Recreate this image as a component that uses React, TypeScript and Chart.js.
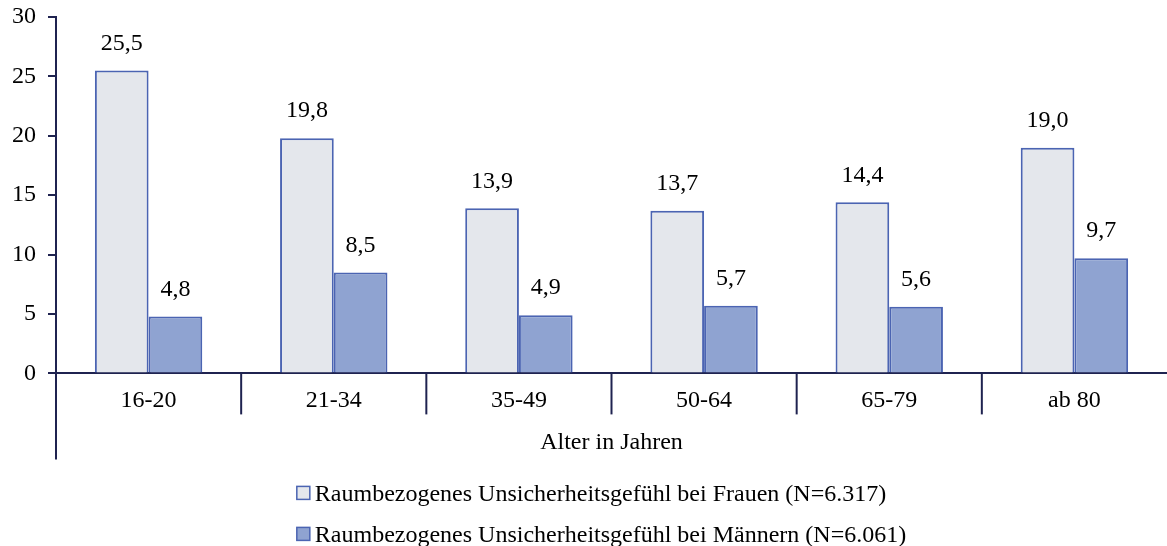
import React, { useEffect, useRef } from "react";
import { Chart, registerables } from "chart.js";

Chart.register(...registerables);

const categories = ["16-20", "21-34", "35-49", "50-64", "65-79", "ab 80"];
const frauen = [25.5, 19.8, 13.9, 13.7, 14.4, 19.0];
const maenner = [4.8, 8.5, 4.9, 5.7, 5.6, 9.7];
const seriesLabels = [
  "Raumbezogenes Unsicherheitsgefühl bei Frauen (N=6.317)",
  "Raumbezogenes Unsicherheitsgefühl bei Männern (N=6.061)",
];
const xTitle = "Alter in Jahren";

const FONT = "'Liberation Serif', 'Times New Roman', serif";
const FS = 24;
const NAVY = "#1f2350";

const extrasPlugin = {
  id: "extras",
  afterDraw(chart: any) {
    const ctx = chart.ctx;
    const area = chart.chartArea;
    const x = chart.scales.x;
    ctx.save();
    // y axis extension and category separators
    ctx.strokeStyle = NAVY;
    ctx.lineWidth = 2;
    ctx.beginPath();
    ctx.moveTo(area.left, area.bottom);
    ctx.lineTo(area.left, area.bottom + 86);
    ctx.stroke();
    for (let i = 0; i < categories.length - 1; i++) {
      const px = (x.getPixelForValue(i) + x.getPixelForValue(i + 1)) / 2;
      ctx.beginPath();
      ctx.moveTo(px, area.bottom);
      ctx.lineTo(px, area.bottom + 41);
      ctx.stroke();
    }
    // data labels
    ctx.fillStyle = "#000";
    ctx.font = `${FS}px ${FONT}`;
    ctx.textAlign = "center";
    ctx.textBaseline = "middle";
    chart.data.datasets.forEach((ds: any, di: number) => {
      const meta = chart.getDatasetMeta(di);
      meta.data.forEach((bar: any, i: number) => {
        const v = ds.data[i];
        ctx.fillText(v.toFixed(1).replace(".", ","), bar.x, bar.y - 27);
      });
    });
    // legend
    const texts = chart.data.datasets.map((d: any) => d.label);
    const widths = texts.map((t: string) => ctx.measureText(t).width);
    const maxW = Math.max(...widths) + 16;
    const left = chart.width / 2 - maxW / 2 + 17;
    ctx.textAlign = "left";
    chart.data.datasets.forEach((ds: any, di: number) => {
      const cy = area.bottom + 120 + di * 41;
      ctx.fillStyle = ds.backgroundColor;
      ctx.strokeStyle = ds.borderColor;
      ctx.lineWidth = 1.5;
      ctx.fillRect(left, cy - 7, 13, 13);
      ctx.strokeRect(left, cy - 7, 13, 13);
      ctx.fillStyle = "#000";
      ctx.fillText(ds.label, left + 18, cy + 1);
    });
    ctx.restore();
  },
};

export default function App() {
  const ref = useRef<HTMLCanvasElement | null>(null);
  useEffect(() => {
    document.body.style.margin = "0";
    const chart = new Chart(ref.current!, {
      type: "bar",
      data: {
        labels: categories,
        datasets: [
          {
            label: seriesLabels[0],
            data: frauen,
            backgroundColor: "#e4e7ec",
            borderColor: "#4b64b2",
            borderWidth: 2,
            categoryPercentage: 0.58,
            barPercentage: 1,
          },
          {
            label: seriesLabels[1],
            data: maenner,
            backgroundColor: "#8fa3d1",
            borderColor: "#4b64b2",
            borderWidth: 2,
            categoryPercentage: 0.58,
            barPercentage: 1,
          },
        ],
      },
      options: {
        animation: false,
        responsive: false,
        maintainAspectRatio: false,
        layout: { padding: { top: 17, left: 0, right: 0, bottom: 76 } },
        plugins: {
          legend: { display: false },
          tooltip: { enabled: false },
        },
        scales: {
          x: {
            grid: { display: false, drawTicks: false },
            border: { display: true, color: NAVY, width: 2 },
            ticks: { color: "#000", font: { family: FONT, size: FS }, padding: 13 },
            title: {
              display: true,
              text: xTitle,
              color: "#000",
              font: { family: FONT, size: FS },
              padding: { top: 0, bottom: 13 },
            },
          },
          y: {
            min: 0,
            max: 30,
            ticks: {
              stepSize: 5,
              color: "#000",
              font: { family: FONT, size: FS, lineHeight: 0.3 },
              padding: 12,
            },
            grid: { drawOnChartArea: false, drawTicks: true, tickLength: 8, color: NAVY, lineWidth: 2 },
            border: { display: true, color: NAVY, width: 2 },
          },
        },
      },
      plugins: [extrasPlugin],
    });
    return () => chart.destroy();
  }, []);
  return (
    <div style={{ position: "absolute", left: 0, top: 0, width: 1167, height: 546 }}>
      <canvas ref={ref} width={1167} height={546} style={{ width: 1167, height: 546 }} />
    </div>
  );
}
